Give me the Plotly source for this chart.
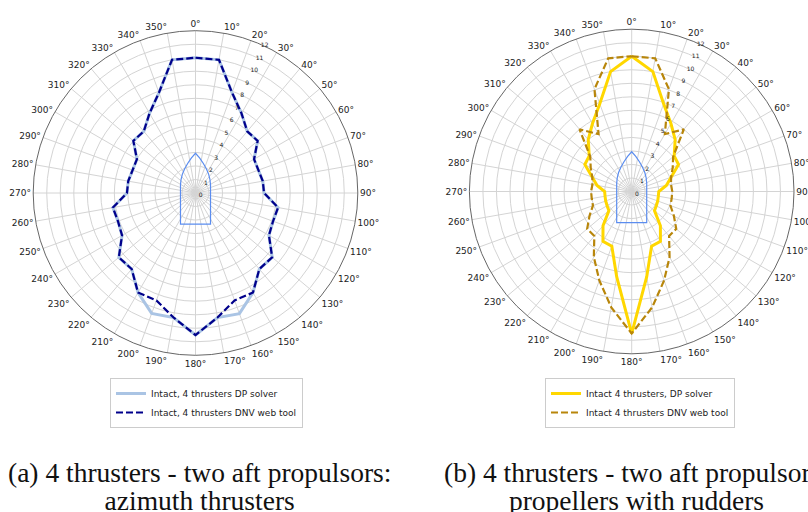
import numpy as np
import plotly.graph_objects as go

# ---------------- data ----------------
headings = list(range(0, 360, 10))

# (a) azimuth thrusters
a_dp_solver = [10.0, 10.0, 7.9, 6.8, 5.95, 6.0, 5.0, 4.95, 5.05, 5.07, 6.2, 6.1, 6.27, 7.4, 7.34, 8.5, 9.49, 9.35,
               10.5, 9.35, 9.47, 8.5, 7.34, 7.4, 6.27, 6.1, 6.2, 5.07, 5.05, 4.95, 5.0, 6.0, 5.95, 6.8, 7.9, 10.0]
a_dnv_tool = [10.0, 10.0, 7.9, 6.8, 5.95, 6.0, 5.0, 4.95, 5.05, 5.07, 6.2, 6.1, 6.27, 7.4, 7.34, 8.5, 8.45, 9.35,
              10.5, 9.35, 8.45, 8.5, 7.34, 7.4, 6.27, 6.1, 6.2, 5.07, 5.05, 4.95, 5.0, 6.0, 5.95, 6.8, 7.9, 10.0]

# (b) propellers with rudders
b_dp_solver = [10.0, 9.0, 6.9, 5.8, 5.0, 4.1, 4.0, 3.1, 2.6, 2.0, 2.0, 2.05, 2.1, 2.2, 3.3, 4.25, 4.3, 6.4,
               10.5, 6.4, 4.3, 4.25, 3.3, 2.2, 2.1, 2.05, 2.0, 2.0, 2.6, 3.1, 4.0, 4.1, 5.0, 5.8, 6.9, 9.0]
b_dnv_tool = [10.0, 10.0, 8.05, 4.9, 6.0, 4.0, 3.5, 3.1, 2.95, 3.0, 3.0, 3.05, 3.6, 4.3, 4.3, 5.6, 7.0, 8.7,
              10.5, 8.7, 7.0, 5.6, 4.3, 4.3, 3.6, 3.05, 3.0, 3.0, 2.95, 3.1, 3.5, 4.0, 6.0, 4.9, 8.05, 10.0]

# ship outline (starboard half, x across / y along, in radial units)
ship_x = [0.0, 1.11, 1.11, 1.07, 0.97, 0.80, 0.57, 0.30, 0.0]
ship_y = [-2.3, -2.3, 0.6, 1.0, 1.4, 1.8, 2.2, 2.6, 2.94]

radial_ticks = list(range(0, 13))
angle_ticks = list(range(0, 360, 10))
angle_labels = [f"{a}°" for a in angle_ticks]

legend_a = ["Intact, 4 thrusters DP solver", "Intact, 4 thrusters DNV web tool"]
legend_b = ["Intact 4 thrusters, DP solver", "Intact 4 thrusters DNV web tool"]
caption_a = ["(a) 4 thrusters - two aft propulsors:", "azimuth thrusters"]
caption_b = ["(b) 4 thrusters - two aft propulsors:", "propellers with rudders"]

# ---------------- helpers ----------------
def closed(theta, r):
    return list(theta) + [theta[0]], list(r) + [r[0]]

sx = ship_x + [-v for v in ship_x[::-1]]
sy = ship_y + ship_y[::-1]
ship_r = list(np.hypot(sx, sy))
ship_t = list(np.degrees(np.arctan2(sx, sy)) % 360)

FONT = "DejaVu Sans"
fig = go.Figure()

def add_panel(pid, s1, s2, names, c1, c2, w1, w2, legend):
    t, r = closed(headings, s1)
    fig.add_trace(go.Scatterpolar(theta=t, r=r, mode="lines", name=names[0],
                                  line=dict(color=c1, width=w1), subplot=pid, legend=legend))
    t, r = closed(headings, s2)
    fig.add_trace(go.Scatterpolar(theta=t, r=r, mode="lines", name=names[1],
                                  line=dict(color=c2, width=w2, dash="7px,3px"), subplot=pid, legend=legend))
    fig.add_trace(go.Scatterpolar(theta=ship_t, r=ship_r, mode="lines", showlegend=False,
                                  line=dict(color="#5b8def", width=1.2), subplot=pid))

add_panel("polar", a_dp_solver, a_dnv_tool, legend_a, "#aac4e4", "#00008b", 3, 2.2, "legend")
add_panel("polar2", b_dp_solver, b_dnv_tool, legend_b, "#ffd700", "#b8860b", 3, 2.2, "legend2")

W, H = 808, 512
R = 162.3
def dom(cx, cy):
    return dict(x=[(cx - R) / W, (cx + R) / W], y=[1 - (cy + R) / H, 1 - (cy - R) / H])

polar_common = dict(
    bgcolor="white",
    angularaxis=dict(direction="clockwise", rotation=90, tickmode="array", tickvals=angle_ticks,
                     ticktext=angle_labels, showgrid=True, gridcolor="#d4d4d4", gridwidth=0.8,
                     showline=True, linecolor="#555555", linewidth=0.9, ticks="",
                     tickfont=dict(family=FONT, size=9, color="#222222")),
    radialaxis=dict(range=[0, 12], tickmode="array", tickvals=radial_ticks, showgrid=True,
                    gridcolor="#d4d4d4", gridwidth=0.8, showline=False, ticks="", angle=67.5,
                    tickangle=67.5, tickfont=dict(family=FONT, size=6, color="#222222")),
)

leg_common = dict(xanchor="left", yanchor="top", bgcolor="white", bordercolor="#cccccc", borderwidth=1,
                  font=dict(family=FONT, size=9, color="#222"), itemwidth=30, tracegroupgap=0)

fig.update_layout(
    width=W, height=H, margin=dict(l=0, r=0, t=0, b=0),
    paper_bgcolor="white", plot_bgcolor="white",
    polar=dict(domain=dom(195.5, 193), **polar_common),
    polar2=dict(domain=dom(631.7, 191.5), **polar_common),
    legend=dict(x=110 / W, y=1 - 378 / H, **leg_common),
    legend2=dict(x=545 / W, y=1 - 378 / H, **leg_common),
    showlegend=True,
)

def caption(lines, cx):
    text = "<br>".join(f"<span style='font-size:27.5px'>{t}</span>" for t in lines)
    fig.add_annotation(text=text, x=cx / W, y=1 - 486 / H, xref="paper", yref="paper",
                       showarrow=False, xanchor="center", yanchor="middle", align="center",
                       font=dict(family="Liberation Serif", size=21.5, color="#111"))

caption(caption_a, 199)
caption(caption_b, 636)

fig.write_html("out.html", config={"displayModeBar": False},
               post_script="document.body.style.margin='0px';")
